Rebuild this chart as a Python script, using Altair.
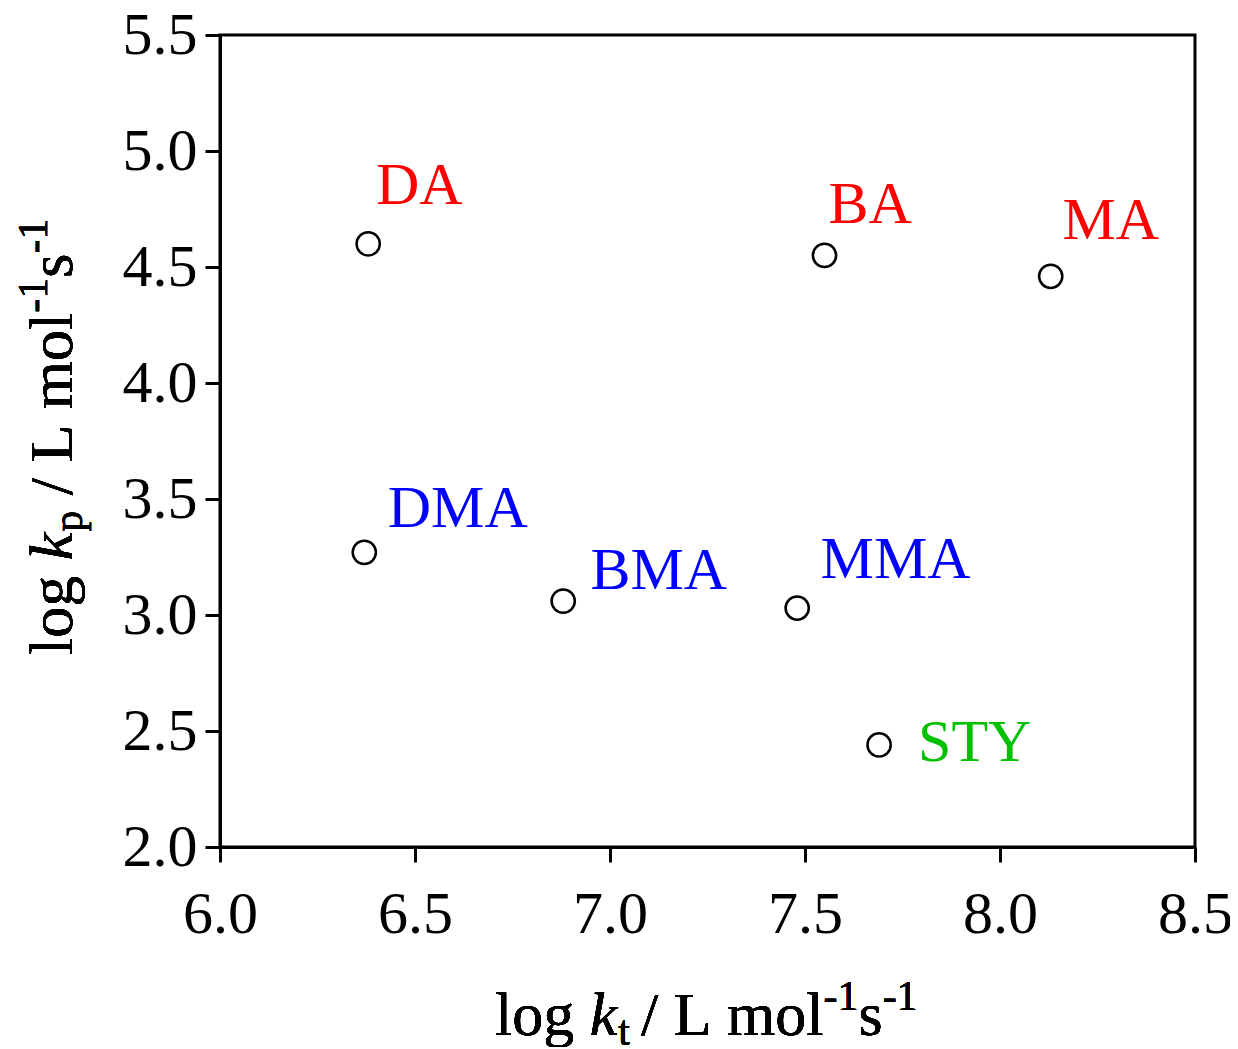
import altair as alt
import pandas as pd

# ---- data ----
names = ["DA", "BA", "MA", "DMA", "BMA", "MMA", "STY"]
log_kt = [6.38, 7.55, 8.13, 6.37, 6.88, 7.48, 7.69]
log_kp = [4.60, 4.55, 4.46, 3.27, 3.06, 3.03, 2.44]
label_x = [6.40, 7.56, 8.16, 6.43, 6.95, 7.54, 7.79]
label_y = [4.77, 4.69, 4.62, 3.38, 3.11, 3.16, 2.37]
label_colors = ["#FF0000", "#FF0000", "#FF0000", "#0000FF", "#0000FF", "#0000FF", "#00C000"]
x_ticks = [6.0, 6.5, 7.0, 7.5, 8.0, 8.5]
y_ticks = [2.0, 2.5, 3.0, 3.5, 4.0, 4.5, 5.0, 5.5]

df = pd.DataFrame({
    "name": names, "kt": log_kt, "kp": log_kp,
    "lx": label_x, "ly": label_y, "color": label_colors,
})

FONT = "Liberation Serif"
W, H = 975, 812

xscale = alt.Scale(domain=[6.0, 8.5], nice=False, zero=False)
yscale = alt.Scale(domain=[2.0, 5.5], nice=False, zero=False)

common_axis = dict(
    labelFont=FONT, labelFontSize=60, labelColor="black",
    tickSize=15, tickWidth=3, tickColor="black",
    domainWidth=3, domainColor="black", grid=False, title=None,
    format=".1f", labelOverlap=False, labelFlush=False,
)

base = alt.Chart(df)

points = base.mark_point(
    shape="circle", filled=False, stroke="black", strokeWidth=2.5, size=540, opacity=1
).encode(
    x=alt.X("kt:Q", scale=xscale, axis=alt.Axis(values=x_ticks, labelPadding=23, **common_axis)),
    y=alt.Y("kp:Q", scale=yscale, axis=alt.Axis(values=y_ticks, labelPadding=8, **common_axis)),
)

labels = base.mark_text(
    align="left", baseline="alphabetic", font=FONT, fontSize=60
).encode(
    x=alt.X("lx:Q", scale=xscale),
    y=alt.Y("ly:Q", scale=yscale),
    text="name:N",
    color=alt.Color("color:N", scale=None),
)


def piece(text, x, y, size=62, style="normal", angle=0):
    kw = dict(align="left", baseline="alphabetic", font=FONT, fontSize=size,
              fontStyle=style, color="black", text=text)
    if angle:
        kw["angle"] = angle
    return base.mark_text(**kw).encode(x=alt.value(x), y=alt.value(y))


NB = "\u00a0"
F = 62
S = 42
SP = 0.25 * F
# x-axis title pieces
xb = 1000
cx = 275
xt = []
xt.append(piece("log", cx, xb, size=F)); cx += 1.278 * F + SP
xt.append(piece("k", cx, xb, size=F, style="italic")); cx += 0.444 * F + 1
xt.append(piece("t", cx, xb + 10, size=S)); cx += 0.278 * S + 11
xt.append(piece("/" + NB + "L" + NB + "mol", cx, xb, size=F)); cx += 2.945 * F
xt.append(piece("-1", cx, xb - 25, size=S)); cx += 0.833 * S
xt.append(piece("s", cx, xb, size=F)); cx += 0.389 * F
xt.append(piece("-1", cx, xb - 25, size=S))

# y-axis title pieces (rotated)
yb = -148
cy = 620
yt = []
yt.append(piece("log", yb, cy, size=F, angle=270)); cy -= 1.278 * F + SP
yt.append(piece("k", yb, cy, size=F, style="italic", angle=270)); cy -= 0.444 * F + 1
yt.append(piece("p", yb + 10, cy, size=S, angle=270)); cy -= 0.5 * S + SP
yt.append(piece("/" + NB + "L" + NB + "mol", yb, cy, size=F, angle=270)); cy -= 2.945 * F
yt.append(piece("-1", yb - 25, cy, size=S, angle=270)); cy -= 0.833 * S
yt.append(piece("s", yb, cy, size=F, angle=270)); cy -= 0.389 * F
yt.append(piece("-1", yb - 25, cy, size=S, angle=270))

chart = alt.layer(points, labels, *xt, *yt).properties(
    width=W, height=H,
    autosize=alt.AutoSizeParams(type="none"),
    padding={"left": 212, "top": 27, "right": 35, "bottom": 200},
).configure(
    background="white",
    view=alt.ViewConfig(stroke="black", strokeWidth=3),
)

chart.save("out.html", embed_options={"renderer": "svg", "actions": False})
